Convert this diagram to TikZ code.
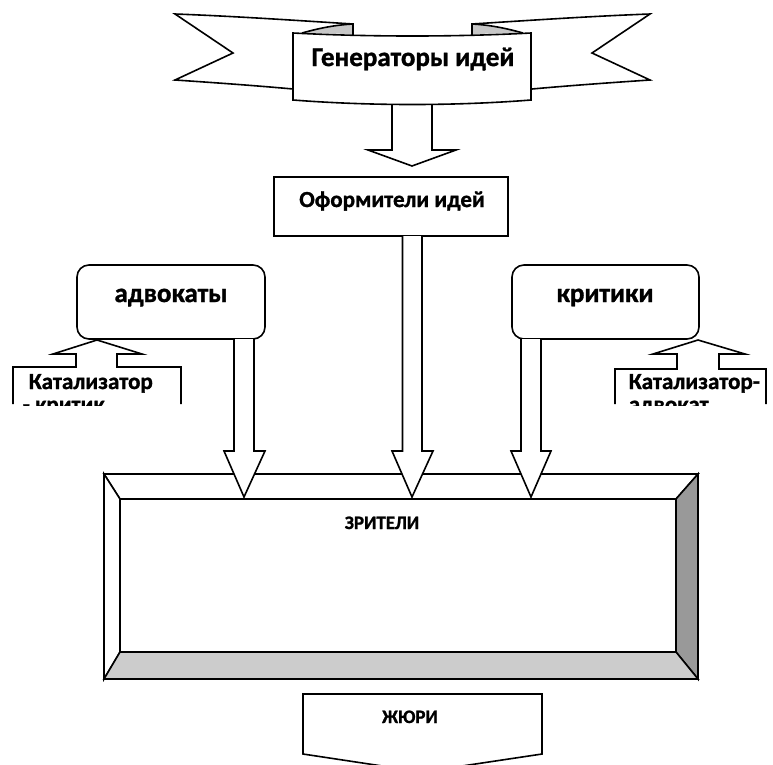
\documentclass[tikz,border=0pt]{standalone}
\usepackage{fontspec}
\setmainfont{Carlito}[BoldFont={Carlito Bold},BoldFeatures={FakeBold=1.2}]
\usetikzlibrary{calc}
\begin{document}
\begin{tikzpicture}[x=1pt,y=-1pt,line width=1.6pt,
  box/.style={draw,fill=white,inner sep=0pt,line width=1.6pt},
  rbox/.style={box,rounded corners=12pt},
  barrow/.style={draw,fill=white,line width=1.6pt},
  big/.style={font=\bfseries\fontsize{27}{32}\selectfont,anchor=base,inner sep=0pt},
  mid/.style={font=\bfseries\fontsize{23}{28}\selectfont,anchor=base,inner sep=0pt},
  small/.style={font=\bfseries\fontsize{19}{22}\selectfont,anchor=base,inner sep=0pt}]
\useasboundingbox (0,0) rectangle (773,764);

% ---- arrow from banner to Оформители (behind the banner)
\path[barrow] (392,90) -- (392,150) -- (368,150) -- (412,166) -- (456,150) -- (432,150) -- (432,90);

% ---- banner
\path[barrow] (353,24) .. controls (290,20) and (230,16) .. (175,14) -- (233,53) -- (175,80)
   .. controls (220,83) and (260,86) .. (293,89) -- (353,60) -- cycle;
\path[barrow] (472,24) .. controls (535,20) and (595,16) .. (650,14) -- (592,53) -- (650,80)
   .. controls (605,83) and (565,86) .. (532,89) -- (472,60) -- cycle;
\path[draw,fill=black!22] (302,33) .. controls (320,28) and (335,25) .. (353,24) -- (353,34);
\path[draw,fill=black!22] (523,33) .. controls (505,28) and (490,25) .. (472,24) -- (472,34);
\path[barrow] (293,33) .. controls (370,37) and (455,37) .. (531,33) -- (531,100)
   .. controls (455,106) and (370,106) .. (293,100) -- cycle;
\node[big] (gen) at (413,66) {Генераторы идей};

% ---- Оформители
\node[box,minimum width=234pt,minimum height=59pt] (ofo) at (391,206.5) {};
\node[mid] (ofoT) at (392,207) {Оформители идей};

% ---- адвокаты / критики
\node[rbox,minimum width=188pt,minimum height=74pt] (adv) at (171,302) {};
\node[big] (advT) at (171,302) {адвокаты};
\node[rbox,minimum width=187pt,minimum height=74pt] (kri) at (605.5,302) {};
\node[big] (kriT) at (605,302) {критики};

% ---- ЗРИТЕЛИ frame
\coordinate (o1) at (104,474); \coordinate (o2) at (698,474);
\coordinate (o3) at (698,679); \coordinate (o4) at (104,679);
\coordinate (i1) at (120,499); \coordinate (i2) at (676,499);
\coordinate (i3) at (676,652); \coordinate (i4) at (120,652);
\path[draw,fill=white] (o1) -- (o2) -- (i2) -- (i1) -- cycle;
\path[draw,fill=white] (o1) -- (i1) -- (i4) -- (o4) -- cycle;
\path[draw,fill=black!40] (o2) -- (o3) -- (i3) -- (i2) -- cycle;
\path[draw,fill=black!20] (o4) -- (i4) -- (i3) -- (o3) -- cycle;
\path[draw,fill=white] (i1) -- (i2) -- (i3) -- (i4) -- cycle;
\node[small] (zr) at (382,529) {ЗРИТЕЛИ};

% ---- block arrows into the frame
\path[barrow] (402.5,236) -- (402.5,451) -- (392,451) -- (412,497) -- (433,451) -- (422,451) -- (422,236);
\path[barrow] (234,339) -- (234,451) -- (224,451) -- (244,497) -- (265,451) -- (254,451) -- (254,339);
\path[barrow] (521,339) -- (521,451) -- (511,451) -- (531,497) -- (551,451) -- (541,451) -- (541,339);

% ---- catalysts
\path[barrow] (13,404) -- (13,367) -- (76,367) -- (76,354) -- (53,354) -- (97,340) -- (142,354)
   -- (117,354) -- (117,367) -- (181,367) -- (181,404);
\path[barrow] (615,404) -- (615,369) -- (677,369) -- (677,354) -- (653,354) -- (698,340) -- (745,354)
   -- (719,354) -- (719,369) -- (766,369) -- (766,404);
\begin{scope}
\clip (0,360) rectangle (773,405);
\node[mid,anchor=base west] (katL) at (28,389) {Катализатор};
\node[mid,anchor=base west] (katL2) at (22,412) {- критик};
\node[mid,anchor=base west] (katR) at (628,389) {Катализатор-};
\node[mid,anchor=base west] (katR2) at (628,412) {адвокат};
\end{scope}

% ---- ЖЮРИ
\path[barrow] (303,754) -- (303,694) -- (542,694) -- (542,754) -- (422,772) -- cycle;
\node[small] (jury) at (410,723) {ЖЮРИ};
\end{tikzpicture}
\end{document}
